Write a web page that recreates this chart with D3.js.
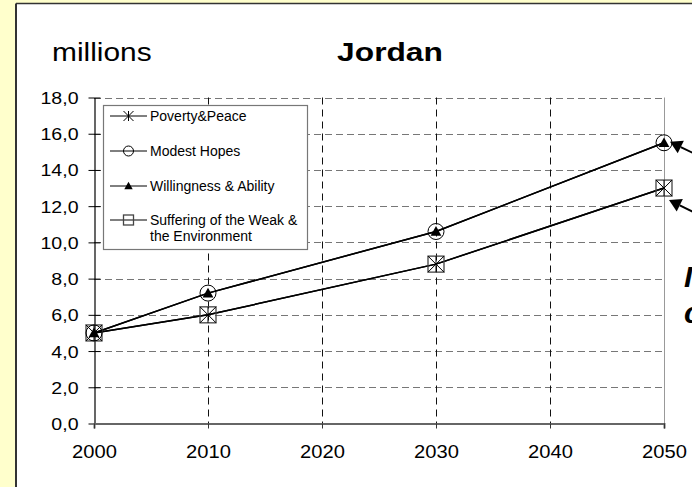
<!DOCTYPE html>
<html>
<head>
<meta charset="utf-8">
<script src="https://cdn.jsdelivr.net/npm/d3@7"></script>
<style>
  html, body { margin: 0; padding: 0; background: #ffffcc; }
  svg { display: block; }
  text { font-family: Arial, "Liberation Sans", sans-serif; fill: #000; }
</style>
</head>
<body>
<svg id="chart" width="692" height="487"></svg>
<script>
// Population of Jordan under four scenarios (millions)
const years = [2000, 2010, 2030, 2050];
const seriesNames = [
  "Poverty&Peace",
  "Modest Hopes",
  "Willingness & Ability",
  "Suffering of the Weak & the Environment"
];
const povertyPeace = [5.0, 6.0, 8.8, 13.0];
const modestHopes  = [5.0, 7.2, 10.6, 15.5];
const willingness  = [5.0, 7.2, 10.6, 15.5];
const suffering    = [5.0, 6.0, 8.8, 13.0];
const yTicks = [0, 2, 4, 6, 8, 10, 12, 14, 16, 18];
const xTicks = [2000, 2010, 2020, 2030, 2040, 2050];
const titleText = "Jordan";
const unitText = "millions";
const sideNotes = ["Identical", "curves"];

const W = 692, H = 487;
const svg = d3.select("#chart");
const SX = 1.15; // horizontal stretch of the chart's lettering

// frame: white panel with dark border on the pale yellow page
svg.append("rect").attr("x", 0).attr("y", 0).attr("width", W).attr("height", H).attr("fill", "#ffffcc");
svg.append("rect").attr("x", 16).attr("y", 3.5).attr("width", W).attr("height", H).attr("fill", "#fff");
svg.append("line").attr("x1", 16).attr("x2", W).attr("y1", 3.5).attr("y2", 3.5)
  .attr("stroke", "#333").attr("stroke-width", 1.5);
svg.append("line").attr("x1", 16).attr("x2", 16).attr("y1", 3.5).attr("y2", H)
  .attr("stroke", "#333").attr("stroke-width", 2);

const x = d3.scaleLinear().domain([2000, 2050]).range([94, 664]);
const y = d3.scaleLinear().domain([0, 18]).range([423.5, 97.5]);

function stretchedText(g, tx, ty, str, opts) {
  const t = g.append("g").attr("transform", `translate(${tx},${ty}) scale(${opts.sx || SX},1)`)
    .append("text").attr("x", 0).attr("y", 0).text(str)
    .attr("font-size", opts.size).attr("text-anchor", opts.anchor || "start");
  if (opts.weight) t.attr("font-weight", opts.weight);
  if (opts.style) t.attr("font-style", opts.style);
  return t;
}

// titles
stretchedText(svg, 52, 61, unitText, { size: 26 });
stretchedText(svg, 390, 61, titleText, { size: 26, weight: "bold", anchor: "middle", sx: 1.22 });

// grid
const grid = svg.append("g");
grid.selectAll("line.h").data(yTicks.filter(d => d > 0)).join("line")
  .attr("x1", x(2000)).attr("x2", x(2050))
  .attr("y1", d => Math.round(y(d)) + 0.5).attr("y2", d => Math.round(y(d)) + 0.5)
  .attr("stroke", "#777").attr("stroke-width", 1).attr("stroke-dasharray", "7,4");
grid.selectAll("line.v").data(xTicks.slice(1, -1)).join("line")
  .attr("x1", d => Math.round(x(d)) + 0.5).attr("x2", d => Math.round(x(d)) + 0.5)
  .attr("y1", y(18)).attr("y2", y(0))
  .attr("stroke", "#111").attr("stroke-width", 1).attr("stroke-dasharray", "7,5");
// right border of plot area
grid.append("line")
  .attr("x1", Math.round(x(2050)) + 0.5).attr("x2", Math.round(x(2050)) + 0.5)
  .attr("y1", y(18)).attr("y2", y(0))
  .attr("stroke", "#999").attr("stroke-width", 1);

// y axis
const yAxis = d3.axisLeft(y).tickValues(yTicks).tickSize(0).tickFormat(d => d3.format(".1f")(d).replace(".", ","));
const yg = svg.append("g").attr("transform", `translate(${Math.round(x(2000)) + 0.5},0)`).call(yAxis);
yg.select(".domain").attr("stroke", "#000").attr("stroke-width", 1.2);
yg.selectAll(".tick line").attr("x1", -6).attr("x2", 6).attr("stroke", "#000").attr("stroke-width", 1);
yg.selectAll(".tick text").remove();
yg.selectAll(".tick").each(function (d) {
  const t = d3.select(this);
  t.append("g").attr("transform", `translate(-16,6) scale(${SX},1)`)
    .append("text").attr("text-anchor", "end").attr("font-size", 17)
    .attr("fill", "#000").text(d3.format(".1f")(d).replace(".", ","));
});

// x axis
const xAxis = d3.axisBottom(x).tickValues(xTicks).tickSize(5).tickFormat(d3.format("d"));
const xg = svg.append("g").attr("transform", `translate(0,${y(0)})`).call(xAxis);
xg.select(".domain").attr("stroke", "#666").attr("stroke-width", 2);
xg.selectAll(".tick line").attr("stroke", "#333").attr("stroke-width", 1);
xg.selectAll(".tick text").remove();
xg.selectAll(".tick").each(function (d) {
  d3.select(this).append("g").attr("transform", `translate(0,34) scale(1.12,1)`)
    .append("text").attr("text-anchor", "middle").attr("font-size", 18)
    .attr("fill", "#000").text(d);
});

// legend
const lg = svg.append("g");
lg.append("rect").attr("x", 103.5).attr("y", 105.5).attr("width", 204).attr("height", 144)
  .attr("fill", "#fff").attr("stroke", "#777").attr("stroke-width", 1.2);

// marker drawers
function drawMarker(g, kind, cx, cy, s) {
  if (kind === 0) { // asterisk
    g.append("path").attr("d",
      `M${cx - s},${cy - s}L${cx + s},${cy + s}M${cx - s},${cy + s}L${cx + s},${cy - s}M${cx},${cy - s}L${cx},${cy + s}`)
      .attr("stroke", "#000").attr("stroke-width", 1).attr("fill", "none");
  } else if (kind === 1) { // open circle
    g.append("circle").attr("cx", cx).attr("cy", cy).attr("r", s)
      .attr("fill", "none").attr("stroke", "#000").attr("stroke-width", 1);
  } else if (kind === 2) { // filled triangle
    const h = s * 0.6;
    g.append("path").attr("d", `M${cx},${cy - h}L${cx + h},${cy + h * 0.8}L${cx - h},${cy + h * 0.8}Z`)
      .attr("fill", "#000");
  } else { // open square
    g.append("rect").attr("x", cx - s).attr("y", cy - s).attr("width", 2 * s).attr("height", 2 * s)
      .attr("fill", "none").attr("stroke", "#444").attr("stroke-width", 1.3);
  }
}

const legendRows = [116, 151, 186, 220];
seriesNames.forEach((name, i) => {
  const cy = legendRows[i];
  lg.append("line").attr("x1", 110).attr("x2", 147).attr("y1", cy).attr("y2", cy)
    .attr("stroke", "#000").attr("stroke-width", 1);
  drawMarker(lg, i, 128.5, cy, i === 2 ? 7 : 5);
  const t = lg.append("text").attr("x", 150).attr("y", cy + 5).attr("font-size", 14);
  if (i === 3) {
    t.append("tspan").attr("x", 150).text("Suffering of the Weak &");
    t.append("tspan").attr("x", 150).attr("dy", 16).text("the Environment");
  } else {
    t.text(name);
  }
});

// series lines
const allSeries = [povertyPeace, modestHopes, willingness, suffering];
const line = d3.line().x((d, i) => x(years[i])).y(d => y(d));
const lines = svg.append("g");
allSeries.forEach(vals => {
  lines.append("path").attr("d", line(vals)).attr("fill", "none")
    .attr("stroke", "#000").attr("stroke-width", 1.5);
});

// markers
const marks = svg.append("g");
[3, 1, 0, 2].forEach(k => {
  allSeries[k].forEach((v, i) => {
    drawMarker(marks, k, x(years[i]), y(v), k === 2 ? 9 : 8);
  });
});

// annotation arrows pointing at the 2050 values
function arrow(tipX, tipY, angleDeg) {
  const a = angleDeg * Math.PI / 180;
  const ux = Math.cos(a), uy = Math.sin(a);
  const len = 12, half = 7;
  const bx = tipX + ux * len, by = tipY + uy * len;
  const px = -uy, py = ux;
  svg.append("path")
    .attr("d", `M${tipX},${tipY}L${bx + px * half},${by + py * half}L${bx - px * half},${by - py * half}Z`)
    .attr("fill", "#000");
  svg.append("line").attr("x1", bx).attr("y1", by)
    .attr("x2", tipX + ux * 80).attr("y2", tipY + uy * 80)
    .attr("stroke", "#000").attr("stroke-width", 2);
}
arrow(x(2050) + 6, y(15.5) - 1, 26);
arrow(x(2050) + 5, y(13.0) + 12, 26);

// side note, running off the right edge
sideNotes.forEach((s, i) => {
  svg.append("text").attr("x", 684).attr("y", 287 + i * 36)
    .attr("font-size", 30).attr("font-weight", "bold").attr("font-style", "italic").text(s);
});
</script>
</body>
</html>
